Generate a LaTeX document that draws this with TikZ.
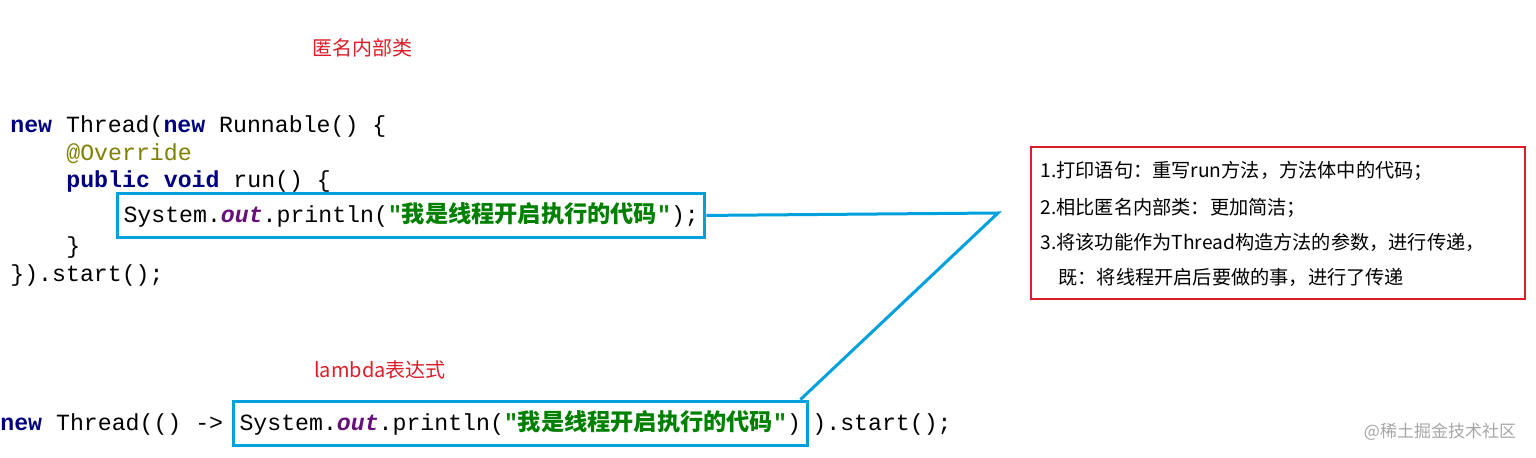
\documentclass[tikz,border=0pt]{standalone}
\usepackage{fontspec}
\setmainfont{Liberation Sans}
\setmonofont{Liberation Mono}
\newfontfamily\cjk{Noto Sans CJK SC}
\usetikzlibrary{positioning}
\definecolor{kwblue}{RGB}{0,0,128}
\definecolor{annot}{RGB}{128,128,0}
\definecolor{fieldpurple}{RGB}{102,14,122}
\definecolor{strgreen}{RGB}{0,128,0}
\definecolor{linkblue}{RGB}{0,160,220}
\definecolor{notered}{RGB}{220,30,40}
\newcommand{\kw}[1]{\textcolor{kwblue}{\bfseries #1}}
\newcommand{\msg}{\textcolor{strgreen}{\bfseries"{\cjk\bfseries 我是线程开启执行的代码}"}}
\newcommand{\sysout}{System.\textcolor{fieldpurple}{\bfseries\itshape out}.println(}

\begin{document}
\begin{tikzpicture}[x=0.5pt, y=-0.5pt,
  code/.style={anchor=base west, inner sep=0pt, font=\ttfamily\fontsize{11.6}{14}\selectfont},
  codebox/.style={code, draw=linkblue, line width=1.5pt, inner xsep=3pt, inner ysep=5pt},
  title/.style={text=notered, font=\cjk\fontsize{10}{12}\selectfont},
  note/.style={anchor=base west, inner sep=0pt, font=\cjk\fontsize{9.6}{11}\selectfont}
]
\useasboundingbox (0,0) rectangle (1536,458);

\node[title] (t1) at (362,48) {匿名内部类};

\node[code] (c1) at (10,133) {\kw{new} Thread(\kw{new} Runnable() \{};
\node[code, text=annot] (c2) at (66,161) {@Override};
\node[code] (c3) at (66,188) {\kw{public} \kw{void} run() \{};
\node[codebox] (b1) at (116,223) {\sysout\msg);};
\node[code] (c5) at (66,254) {\}};
\node[code] (c6) at (10,282) {\}).start();};

\node[title] (t2) at (380,370) {lambda表达式};

\node[code] (d1) at (0,431) {\kw{new} Thread(() ->};
\node[codebox] (b2) at (232,431) {\sysout\msg)};
\node[code] (d2) at (812,431) {).start();};

\node[draw=notered, line width=1.2pt, minimum width=494*0.5pt, minimum height=152*0.5pt,
  anchor=north west, inner sep=0pt] (nb) at (1030,146) {};
\node[note] (n1) at (1040,178) {1.打印语句：重写run方法，方法体中的代码；};
\node[note] (n2) at (1040,215) {2.相比匿名内部类：更加简洁；};
\node[note] (n3) at (1040,250) {3.将该功能作为Thread构造方法的参数，进行传递，};
\node[note] (n4) at (1058,285) {既：将线程开启后要做的事，进行了传递};

\coordinate (bend) at (998,213);
\draw[linkblue, line width=1.5pt] (b1.east) -- (bend) -- ([xshift=-4pt]b2.north east);

\node[text=gray!70, font=\cjk\fontsize{8.5}{10}\selectfont] (wm) at (1440,432) {@稀土掘金技术社区};
\end{tikzpicture}
\end{document}
